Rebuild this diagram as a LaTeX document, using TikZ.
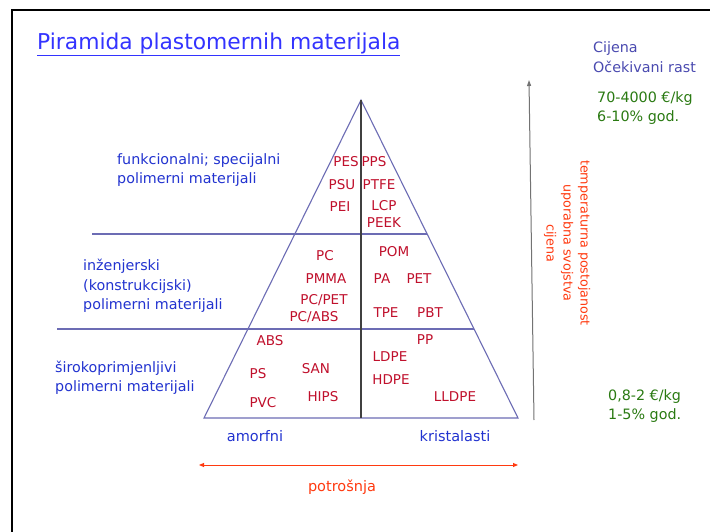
\documentclass[tikz,border=0pt]{standalone}
\usepackage{fontspec}
\setmainfont{DejaVu Sans}
\usetikzlibrary{arrows.meta}
\definecolor{pyr}{HTML}{6C6CB4}
\definecolor{poly}{HTML}{C0102C}
\definecolor{lblue}{HTML}{2233D0}
\definecolor{sblue}{HTML}{4A4AB0}
\definecolor{dgreen}{HTML}{2A7A12}
\definecolor{ored}{HTML}{FF3A10}
\tikzset{
  pl/.style={text=poly,font=\fontsize{13.5}{15}\selectfont,inner sep=0pt},
  cat/.style={text=lblue,font=\fontsize{14.3}{19.3}\selectfont,align=left,anchor=west,inner sep=0pt},
  side/.style={anchor=west,font=\fontsize{14.3}{19.5}\selectfont,align=left,inner sep=0pt},
  pyrline/.style={draw=pyr,line width=1.1pt},
}
\begin{document}
\begin{tikzpicture}[x=1pt,y=-1pt]
\useasboundingbox (0,0) rectangle (710,532);
\fill[white] (0,0) rectangle (710,532);
\draw[line width=2.4pt] (12,532) -- (12,10) -- (710,10);
% title
\node[anchor=west,text=blue!80!white,font=\fontsize{21.8}{24}\selectfont,inner sep=0pt] (title) at (37,44) {\underline{Piramida plastomernih materijala}};
% pyramid
\coordinate (apex) at (361,100);
\coordinate (bl) at (204,418);
\coordinate (br) at (518,418);
\coordinate (bm) at (361,418);
\coordinate (l1) at (92,234);
\coordinate (r1) at (427,234);
\coordinate (l2) at (57,329);
\coordinate (r2) at (474,329);
\draw[pyrline] (bl) -- (apex) -- (br) -- cycle;
\draw[pyrline] (l1) -- (r1);
\draw[pyrline] (l2) -- (r2);
\draw[draw=black!75,line width=2pt] (apex) -- (bm);
% polymer labels
\node[pl] (pes) at (346,162) {PES};
\node[pl] (pps) at (374,162) {PPS};
\node[pl] (psu) at (342,185) {PSU};
\node[pl] (ptfe) at (379,185) {PTFE};
\node[pl] (pei) at (340,207) {PEI};
\node[pl] (lcp) at (384,206) {LCP};
\node[pl] (peek) at (384,223) {PEEK};
\node[pl] (pc) at (325,256) {PC};
\node[pl] (pom) at (394,252) {POM};
\node[pl] (pmma) at (326,279) {PMMA};
\node[pl] (pa) at (382,279) {PA};
\node[pl] (pet) at (419,279) {PET};
\node[pl] (pcpet) at (324,300) {PC/PET};
\node[pl] (pcabs) at (314,317) {PC/ABS};
\node[pl] (tpe) at (386,313) {TPE};
\node[pl] (pbt) at (430,313) {PBT};
\node[pl] (abs) at (270,341) {ABS};
\node[pl] (pp) at (425,340) {PP};
\node[pl] (ldpe) at (390,357) {LDPE};
\node[pl] (ps) at (258,374) {PS};
\node[pl] (san) at (316,369) {SAN};
\node[pl] (hdpe) at (391,380) {HDPE};
\node[pl] (pvc) at (263,403) {PVC};
\node[pl] (hips) at (323,397) {HIPS};
\node[pl] (lldpe) at (455,397) {LLDPE};
% category labels
\node[cat] (c1) at (117,170) {funkcionalni; specijalni\\polimerni materijali};
\node[cat] (c2) at (83,286) {inženjerski\\(konstrukcijski)\\polimerni materijali};
\node[cat] (c3) at (55,378) {širokoprimjenljivi\\polimerni materijali};
% bottom
\node[text=lblue,font=\fontsize{14.5}{16}\selectfont] (amorf) at (255,436) {amorfni};
\node[text=lblue,font=\fontsize{14.5}{16}\selectfont] (krist) at (455,436) {kristalasti};
\coordinate (pa1) at (199,465);
\coordinate (pa2) at (518,465);
\draw[ored,line width=0.9pt,{Triangle[length=5pt,width=4pt]}-{Triangle[length=5pt,width=4pt]}] (pa1) -- (pa2);
\node[text=ored,font=\fontsize{14.5}{16}\selectfont] (potr) at (342,487) {potrošnja};
% right side
\node[side,text=sblue] (cij) at (593,57) {Cijena\\Očekivani rast};
\node[side,text=dgreen] (top) at (597,108) {70-4000 €/kg\\6-10\% god.};
\node[side,text=dgreen] (bot) at (608,406) {0,8-2 €/kg\\1-5\% god.};
\coordinate (ab) at (534,420);
\coordinate (at) at (529,80);
\draw[black!55,line width=1pt,-{Triangle[length=6pt,width=4pt]}] (ab) -- (at);
\node[rotate=-90,text=ored,font=\fontsize{12.7}{17}\selectfont,align=center,inner sep=0pt] (rot) at (567,243) {temperaturna postojanost\\uporabna svojstva\\cijena};
\end{tikzpicture}
\end{document}
